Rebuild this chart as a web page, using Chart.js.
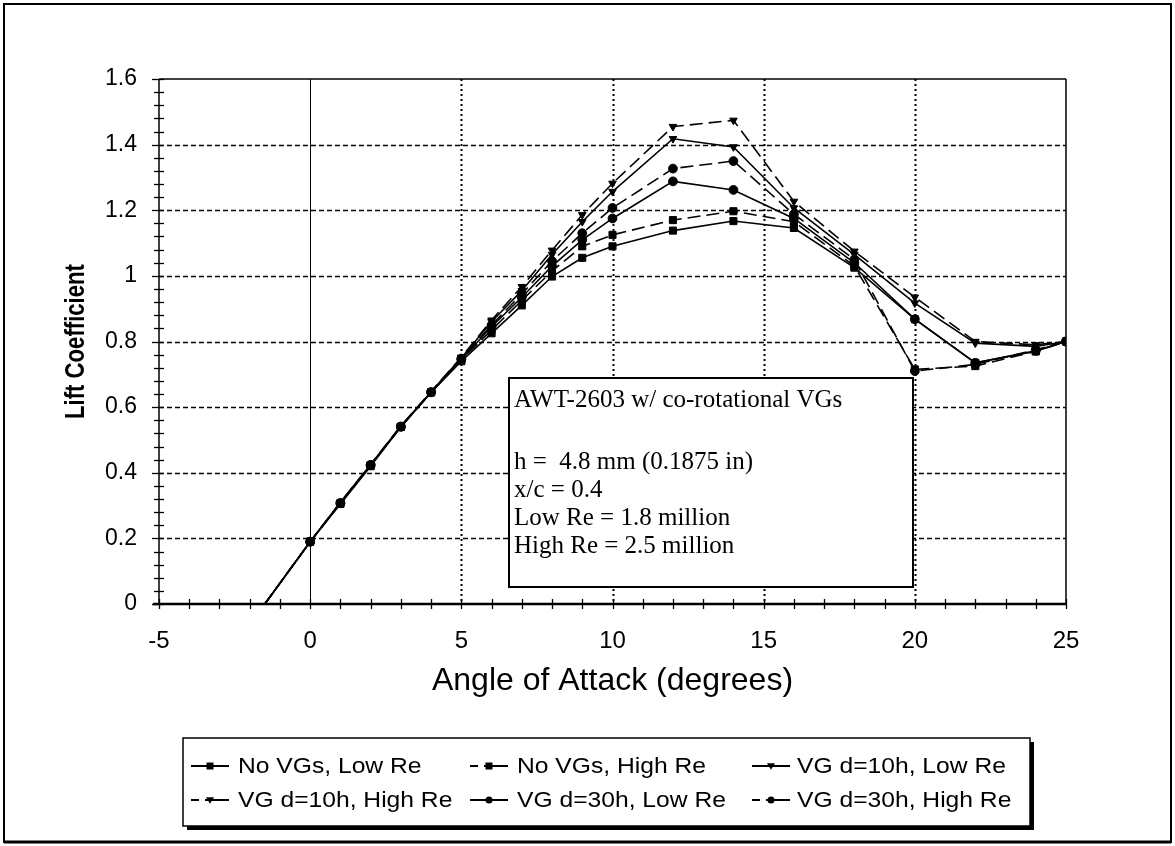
<!DOCTYPE html>
<html>
<head>
<meta charset="utf-8">
<script src="https://cdn.jsdelivr.net/npm/chart.js@4.4.1/dist/chart.umd.min.js"></script>
<style>
  html, body { margin: 0; padding: 0; background: #fff; }
  #wrap { width: 1175px; height: 846px; position: relative; }
</style>
</head>
<body>
<div id="wrap"><canvas id="c" width="1175" height="846"></canvas></div>
<script>
// Angle of attack (degrees) shared by every run
const angleOfAttack = [-1.5, 0, 1, 2, 3, 4, 5, 6, 7, 8, 9, 10, 12, 14, 16, 18, 20, 22, 24, 25];

// Lift coefficient for each configuration
const noVgLowRe   = [0, 0.19, 0.305, 0.42, 0.54, 0.645, 0.74, 0.825, 0.91, 0.998, 1.055, 1.09, 1.138, 1.167, 1.146, 1.025, 0.868, 0.735, 0.77, 0.80];
const noVgHighRe  = [0, 0.19, 0.307, 0.423, 0.54, 0.645, 0.745, 0.835, 0.925, 1.015, 1.09, 1.125, 1.17, 1.197, 1.165, 1.03, 0.715, 0.725, 0.77, 0.80];
const vg10LowRe   = [0, 0.19, 0.31, 0.425, 0.542, 0.647, 0.75, 0.86, 0.955, 1.065, 1.165, 1.257, 1.418, 1.393, 1.207, 1.065, 0.917, 0.795, 0.785, 0.80];
const vg10HighRe  = [0, 0.19, 0.31, 0.425, 0.543, 0.648, 0.752, 0.865, 0.967, 1.078, 1.186, 1.282, 1.455, 1.474, 1.227, 1.075, 0.935, 0.80, 0.79, 0.80];
const vg30LowRe   = [0, 0.19, 0.307, 0.423, 0.54, 0.645, 0.745, 0.845, 0.935, 1.03, 1.11, 1.175, 1.288, 1.262, 1.175, 1.04, 0.868, 0.735, 0.772, 0.80];
const vg30HighRe  = [0, 0.19, 0.308, 0.424, 0.541, 0.646, 0.748, 0.85, 0.945, 1.045, 1.13, 1.207, 1.327, 1.35, 1.188, 1.05, 0.71, 0.73, 0.775, 0.80];

const seriesNames = ['No VGs, Low Re', 'No VGs, High Re', 'VG d=10h, Low Re',
                     'VG d=10h, High Re', 'VG d=30h, Low Re', 'VG d=30h, High Re'];
const seriesValues = [noVgLowRe, noVgHighRe, vg10LowRe, vg10HighRe, vg30LowRe, vg30HighRe];

const noteLines = ['AWT-2603 w/ co-rotational VGs', '', 'h =  4.8 mm (0.1875 in)',
                   'x/c = 0.4', 'Low Re = 1.8 million', 'High Re = 2.5 million'];

const xTitle = 'Angle of Attack (degrees)';
const yTitle = 'Lift Coefficient';

// Line dash and marker per series (low Re solid, high Re dashed)
const LONG_DASH = [13, 6];
const seriesLook = [
  { dash: [],        marker: 'rect' },
  { dash: LONG_DASH, marker: 'rect' },
  { dash: [],        marker: 'triangle' },
  { dash: LONG_DASH, marker: 'triangle' },
  { dash: [],        marker: 'circle' },
  { dash: LONG_DASH, marker: 'circle' }
];

const SANS = '"Liberation Sans", Arial, sans-serif';
const SERIF = '"Liberation Serif", "Times New Roman", serif';

const datasets = seriesValues.map((vals, i) => ({
  label: seriesNames[i],
  data: angleOfAttack.map((a, k) => ({ x: a, y: vals[k] })),
  borderColor: '#000',
  backgroundColor: '#000',
  pointBackgroundColor: '#000',
  pointBorderColor: '#000',
  borderWidth: 1.6,
  borderDash: seriesLook[i].dash,
  pointStyle: seriesLook[i].marker,
  rotation: seriesLook[i].marker === 'triangle' ? 180 : 0,
  pointRadius: ctx => (ctx.raw && ctx.raw.y <= 0) ? 0 : (seriesLook[i].marker === 'rect' ? 5 : 4.4),
  pointBorderWidth: 1,
  tension: 0,
  fill: false
}));

function strokeLine(ctx, x1, y1, x2, y2) {
  ctx.beginPath(); ctx.moveTo(x1, y1); ctx.lineTo(x2, y2); ctx.stroke();
}

function drawMarker(ctx, kind, x, y, r) {
  ctx.beginPath();
  if (kind === 'rect') {
    ctx.rect(x - r, y - r, 2 * r, 2 * r);
  } else if (kind === 'triangle') {
    ctx.moveTo(x - r * 1.15, y - r * 0.8);
    ctx.lineTo(x + r * 1.15, y - r * 0.8);
    ctx.lineTo(x, y + r * 1.1);
    ctx.closePath();
  } else {
    ctx.arc(x, y, r, 0, Math.PI * 2);
  }
  ctx.fill();
}

// Grid, axis frame and minor tick crosses
const axisFrame = {
  id: 'axisFrame',
  beforeDatasetsDraw(chart) {
    const { ctx, chartArea: a, scales: { x, y } } = chart;
    ctx.save();
    ctx.strokeStyle = '#000';
    ctx.lineCap = 'butt';

    // dashed horizontal grid
    ctx.lineWidth = 1.5;
    ctx.setLineDash([5, 3]);
    y.ticks.forEach(t => {
      if (t.value > 0.001 && t.value < 1.599) {
        const py = Math.round(y.getPixelForValue(t.value)) + 0.5;
        strokeLine(ctx, a.left, py, a.right, py);
      }
    });

    // dotted vertical grid, solid at zero
    x.ticks.forEach(t => {
      const px = Math.round(x.getPixelForValue(t.value)) + 0.5;
      if (t.value === 0) {
        ctx.setLineDash([]); ctx.lineWidth = 1;
        strokeLine(ctx, px, a.top, px, a.bottom);
      } else if (t.value > -5 && t.value < 25) {
        ctx.setLineDash([2, 3]); ctx.lineWidth = 2;
        strokeLine(ctx, px, a.top, px, a.bottom);
      }
    });

    // frame
    ctx.setLineDash([]);
    ctx.lineWidth = 1.5;
    strokeLine(ctx, a.left, a.top, a.right, a.top);
    strokeLine(ctx, a.right, a.top, a.right, a.bottom);
    strokeLine(ctx, a.left, a.top, a.left, a.bottom);
    ctx.lineWidth = 2.5;
    strokeLine(ctx, a.left - 6, a.bottom, a.right, a.bottom);

    // tick crosses on the value axis every 0.04
    ctx.lineWidth = 1.3;
    for (let i = 0; i <= 40; i++) {
      const py = Math.round(y.getPixelForValue(i * 0.04)) + 0.5;
      const len = (i % 5 === 0) ? 7 : 5;
      strokeLine(ctx, a.left - len, py, a.left + 5, py);
    }
    // tick crosses on the angle axis every degree
    for (let d = -5; d <= 25; d++) {
      const px = Math.round(x.getPixelForValue(d)) + 0.5;
      strokeLine(ctx, px, a.bottom - 5, px, a.bottom + 5);
    }

    // condensed bold value-axis title
    ctx.fillStyle = '#000';
    ctx.font = 'bold 27px ' + SANS;
    ctx.textAlign = 'center';
    ctx.textBaseline = 'middle';
    ctx.translate(77, (a.top + a.bottom) / 2);
    ctx.rotate(-Math.PI / 2);
    ctx.scale(0.82, 1);
    ctx.fillText(yTitle, 0, 0);
    ctx.restore();
  }
};

// Text box, legend and outer border
const overlays = {
  id: 'overlays',
  afterDraw(chart) {
    const { ctx } = chart;
    ctx.save();

    // note box
    const bx = 509, by = 378, bw = 404, bh = 209;
    ctx.fillStyle = '#fff';
    ctx.fillRect(bx, by, bw, bh);
    ctx.strokeStyle = '#000';
    ctx.lineWidth = 2;
    ctx.strokeRect(bx, by, bw, bh);
    ctx.fillStyle = '#000';
    ctx.font = '25px ' + SERIF;
    ctx.textBaseline = 'middle';
    ctx.textAlign = 'left';
    const lineOffsets = [22, 0, 84, 112, 140, 168];
    noteLines.forEach((line, i) => {
      if (line) ctx.fillText(line, bx + 5, by + lineOffsets[i]);
    });

    // legend box with drop shadow
    const lx = 183, ly = 738, lw = 847, lh = 88;
    ctx.fillStyle = '#000';
    ctx.fillRect(lx + 4, ly + 4, lw, lh);
    ctx.fillStyle = '#fff';
    ctx.fillRect(lx, ly, lw, lh);
    ctx.strokeStyle = '#000';
    ctx.lineWidth = 1.5;
    ctx.strokeRect(lx, ly, lw, lh);

    const colSample = [191, 470, 752];
    const colText = [238, 517, 797];
    const rowY = [766, 800];
    ctx.font = '22px ' + SANS;
    seriesNames.forEach((name, i) => {
      const col = i % 3, row = Math.floor(i / 3);
      const sx = colSample[col], y = rowY[row];
      const look = seriesLook[i];
      ctx.strokeStyle = '#000';
      ctx.lineWidth = 2;
      if (look.dash.length) {
        strokeLine(ctx, sx, y, sx + 8, y);
        strokeLine(ctx, sx + 14, y, sx + 38, y);
      } else {
        strokeLine(ctx, sx, y, sx + 38, y);
      }
      ctx.fillStyle = '#000';
      drawMarker(ctx, look.marker, sx + 19, y, 3.5);
      ctx.save();
      ctx.translate(colText[col], y + 1);
      ctx.scale(1.12, 1);
      ctx.fillText(name, 0, 0);
      ctx.restore();
    });

    // outer border
    ctx.lineWidth = 2;
    ctx.strokeRect(4, 4, 1167, 838);
    ctx.lineWidth = 3;
    strokeLine(ctx, 4, 842, 1171, 842);
    ctx.restore();
  }
};

new Chart(document.getElementById('c'), {
  type: 'line',
  data: { datasets },
  options: {
    responsive: false,
    animation: false,
    layout: { padding: { top: 79, right: 109, bottom: 146, left: 0 } },
    plugins: { legend: { display: false }, tooltip: { enabled: false } },
    scales: {
      x: {
        type: 'linear',
        min: -5, max: 25,
        grid: { display: false, drawTicks: false },
        border: { display: false },
        ticks: { stepSize: 5, padding: 23, maxRotation: 0, color: '#000',
                 font: { family: SANS, size: 24 } },
        title: { display: true, text: xTitle, color: '#000',
                 font: { family: SANS, size: 32 }, padding: { top: 0, bottom: 0 } },
        afterFit(scale) { scale.height = 96; scale.paddingLeft = 0; scale.paddingRight = 0; }
      },
      y: {
        type: 'linear',
        min: 0, max: 1.6,
        grid: { display: false, drawTicks: false },
        border: { display: false },
        ticks: { stepSize: 0.2, padding: 22, color: '#000',
                 font: { family: SANS, size: 23 },
                 callback: v => String(Number(v.toFixed(1))) },
        title: { display: false },
        afterFit(scale) { scale.width = 159; scale.paddingTop = 0; scale.paddingBottom = 0; }
      }
    }
  },
  plugins: [axisFrame, overlays]
});
</script>
</body>
</html>
